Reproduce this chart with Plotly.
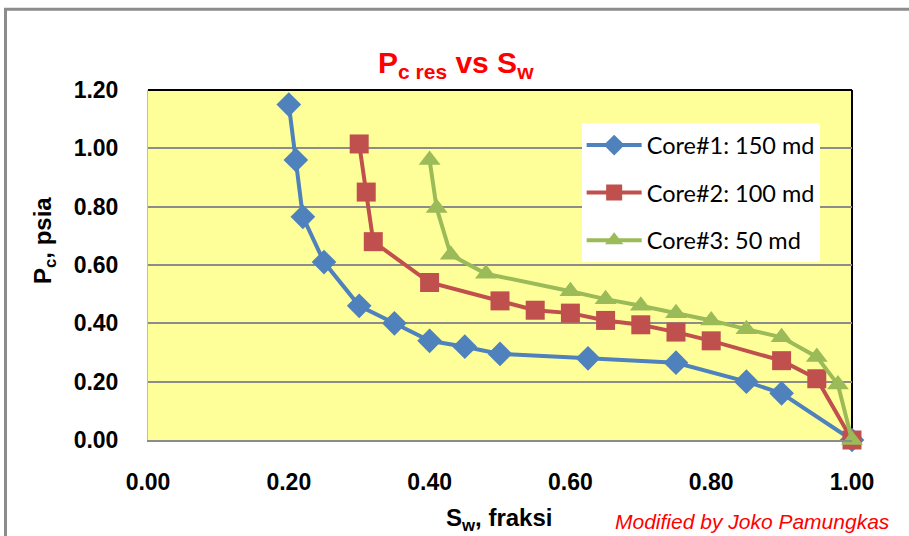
import plotly.graph_objects as go

# Capillary pressure vs water saturation for three cores
sw_core1 = [0.20, 0.21, 0.22, 0.25, 0.30, 0.35, 0.40, 0.45, 0.50, 0.625, 0.75, 0.85, 0.90, 1.00]
pc_core1 = [1.15, 0.96, 0.765, 0.61, 0.46, 0.40, 0.34, 0.32, 0.295, 0.28, 0.265, 0.20, 0.16, 0.00]

sw_core2 = [0.30, 0.31, 0.32, 0.40, 0.50, 0.55, 0.60, 0.65, 0.70, 0.75, 0.80, 0.90, 0.95, 1.00]
pc_core2 = [1.015, 0.85, 0.68, 0.54, 0.477, 0.445, 0.435, 0.41, 0.395, 0.37, 0.34, 0.272, 0.21, 0.00]

sw_core3 = [0.40, 0.41, 0.43, 0.48, 0.60, 0.65, 0.70, 0.75, 0.80, 0.85, 0.90, 0.95, 0.98, 1.00]
pc_core3 = [0.96, 0.795, 0.635, 0.57, 0.51, 0.483, 0.46, 0.435, 0.41, 0.38, 0.352, 0.285, 0.19, 0.00]

series_names = ["Core#1: 150 md", "Core#2: 100 md", "Core#3: 50 md"]
series_colors = ["#4F81BD", "#C0504D", "#9BBB59"]
series_symbols = ["diamond", "square", "triangle-up"]

x_ticks = [0.0, 0.2, 0.4, 0.6, 0.8, 1.0]
y_ticks = [0.0, 0.2, 0.4, 0.6, 0.8, 1.0, 1.2]

fig = go.Figure()
for i, (xs, ys) in enumerate([(sw_core1, pc_core1), (sw_core2, pc_core2), (sw_core3, pc_core3)]):
    fig.add_trace(go.Scatter(
        x=xs, y=ys, mode="lines+markers", name=series_names[i],
        legendgroup=f"g{i}",
        line=dict(color=series_colors[i], width=4),
        marker=dict(symbol=series_symbols[i], size=19, color=series_colors[i]),
        cliponaxis=False,
    ))

tick_font = dict(family="Liberation Sans, Arial", size=23, color="black", weight="bold")

fig.update_layout(
    width=909, height=536,
    margin=dict(l=148, r=57, t=90, b=96),
    paper_bgcolor="white",
    plot_bgcolor="#FFFF99",
    showlegend=True,
    legend=dict(
        x=0.616, y=0.905, xanchor="left", yanchor="top",
        bgcolor="white", borderwidth=0,
        font=dict(family="Lato, Open Sans", size=23.5, color="black"),
        itemwidth=55, tracegroupgap=14, traceorder="grouped",
    ),
    xaxis=dict(
        range=[0, 1], tickvals=x_ticks, tickformat=".2f",
        showgrid=False, zeroline=False,
        showline=True, linecolor="#8C8C8C", linewidth=2,
        ticks="", ticklabelstandoff=20, tickfont=tick_font,
    ),
    yaxis=dict(
        range=[0, 1.2], tickvals=y_ticks, tickformat=".2f",
        showgrid=True, gridcolor="#8C8C8C", gridwidth=2,
        zeroline=False, showline=True, linecolor="#BDBDBD", linewidth=1,
        ticks="", ticklabelstandoff=24, tickfont=tick_font,
    ),
    annotations=[
        dict(text="P<sub>c res</sub> vs S<sub>w</sub>", xref="paper", yref="paper",
             x=0.438, y=1.015, xanchor="center", yanchor="bottom", showarrow=False,
             font=dict(family="Liberation Sans, Arial", size=30, color="#FF0000", weight="bold")),
        dict(text="P<sub>c</sub>, psia", xref="paper", yref="paper",
             x=-0.146, y=0.569, xanchor="center", yanchor="middle", textangle=-90,
             showarrow=False,
             font=dict(family="Liberation Sans, Arial", size=24, color="black", weight="bold")),
        dict(text="S<sub>w</sub>, fraksi", xref="paper", yref="paper",
             x=0.4986, y=-0.226, xanchor="center", yanchor="middle", showarrow=False,
             font=dict(family="Liberation Sans, Arial", size=24, color="black", weight="bold")),
        dict(text="<i>Modified by Joko Pamungkas</i>", xref="paper", yref="paper",
             x=0.858, y=-0.232, xanchor="center", yanchor="middle", showarrow=False,
             font=dict(family="Liberation Sans, Arial", size=21, color="#FF0000")),
    ],
    shapes=[
        # outer chart frame
        dict(type="rect", xref="paper", yref="paper", x0=-0.2024, x1=1.1, y0=-0.35, y1=1.231,
             line=dict(color="#8C8C8C", width=3), layer="above"),
        # dark top and right edges of the plot area
        dict(type="line", xref="paper", yref="paper", x0=0, x1=1, y0=1, y1=1,
             line=dict(color="black", width=2), layer="below"),
        dict(type="line", xref="paper", yref="paper", x0=1, x1=1, y0=0, y1=1,
             line=dict(color="black", width=2), layer="below"),
    ],
)

fig.write_html("out.html")
